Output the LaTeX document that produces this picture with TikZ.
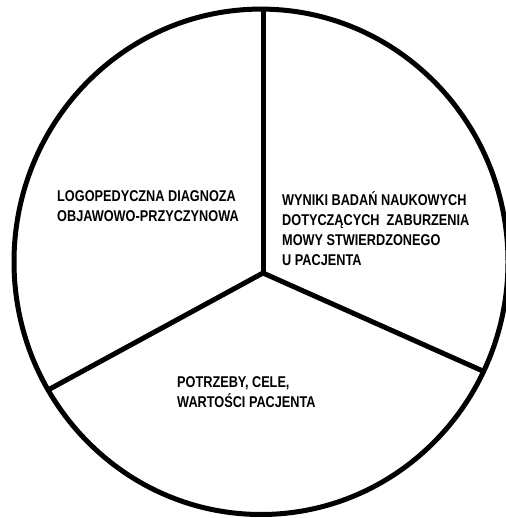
\documentclass[tikz,border=0pt]{standalone}
\usepackage{fontspec}
\newfontfamily\lblfont{Liberation Sans}[FakeStretch=0.815]
\begin{document}
\begin{tikzpicture}[x=1pt,y=1pt,
  rim/.style={line width=5pt},
  spoke/.style={line width=5pt},
  lbl/.style={anchor=base west,align=left,inner sep=0pt,
    font=\lblfont\bfseries\fontsize{15.6}{20}\selectfont}]
\useasboundingbox (0,0) rectangle (505,518);
% outer circle
\draw[rim] (261,256.2) ellipse [x radius=247, y radius=252.7];
% three sectors
\coordinate (hub) at (263,245);
\coordinate (top) at (263,509);
\coordinate (lft) at (48,128);
\coordinate (rgt) at (485,146);
\draw[spoke] (hub) -- (top);
\draw[spoke] (hub) -- (lft);
\draw[spoke] (hub) -- (rgt);
% labels (anchored at the baseline of the last line)
\node[lbl] (diag) at (57,296) {LOGOPEDYCZNA DIAGNOZA\\OBJAWOWO-PRZYCZYNOWA};
\node[lbl] (bad) at (282,252) {WYNIKI BADAŃ NAUKOWYCH\\DOTYCZĄCYCH\ \ ZABURZENIA\\MOWY STWIERDZONEGO\\U PACJENTA};
\node[lbl] (potr) at (177,110) {POTRZEBY, CELE,\\WARTOŚCI PACJENTA};
\end{tikzpicture}
\end{document}
